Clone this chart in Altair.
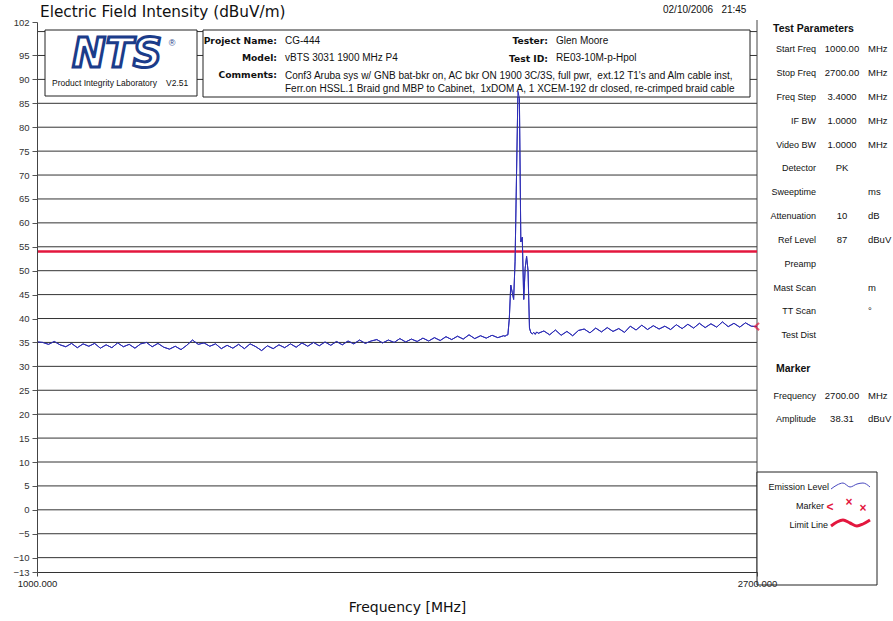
import altair as alt
import pandas as pd

# ---------------- data ----------------
START_FREQ = 1000.0
FREQ_STEP = 3.4

# sweep indices (freq = START_FREQ + FREQ_STEP * k) and levels
pre_idx = list(range(0, 325, 4))
pre_levels = [35.1, 35.0, 34.6, 35.2, 34.5, 34.1, 34.8, 33.9, 34.7, 34.2,
              34.8, 33.8, 34.5, 33.9, 34.9, 34.1, 34.6, 33.8, 34.7, 35.0,
              34.1, 34.8, 34.0, 33.6, 34.2, 33.5, 34.4, 35.5, 34.6, 34.9,
              34.2, 34.7, 33.7, 34.4, 33.8, 34.6, 33.7, 34.7, 34.1, 33.3,
              34.3, 33.7, 34.5, 33.9, 34.7, 34.0, 34.9, 34.2, 35.0, 34.3,
              35.1, 34.4, 35.2, 34.5, 35.3, 34.7, 35.5, 34.8, 35.3, 35.6,
              34.9, 35.5, 35.0, 35.8, 35.1, 35.7, 35.2, 35.9, 35.3, 36.0,
              35.4, 36.2, 35.6, 36.3, 35.7, 36.6, 35.8, 36.4, 35.9, 36.5,
              36.0, 36.4]
peak_idx = list(range(325, 349))
peak_levels = [36.3, 36.5, 36.6, 40.0, 47.0, 45.5, 44.0, 52.0, 70.0, 87.5,
               86.0, 56.0, 57.0, 44.0, 50.5, 53.0, 50.0, 38.0, 37.0, 36.8,
               37.1, 36.7, 37.2, 36.9]
post_idx = list(range(352, 501, 4))
post_levels = [37.4, 36.6, 37.6, 36.5, 37.3, 36.4, 37.5, 37.8, 37.0, 38.0,
               37.2, 38.1, 37.3, 37.9, 37.1, 38.4, 37.6, 38.6, 37.7, 38.5,
               37.8, 38.4, 37.7, 38.7, 37.9, 38.8, 38.0, 39.0, 38.1, 38.9,
               38.2, 39.3, 38.3, 39.0, 38.2, 39.1, 38.4, 38.31]

LIMIT_LEVEL = 54.0
MARKER_FREQ = 2700.0
MARKER_AMP = 38.31

grid_levels = list(range(-10, 101, 5))
y_tick_values = [102, 95, 90, 85, 80, 75, 70, 65, 60, 55, 50, 45, 40, 35, 30,
                 25, 20, 15, 10, 5, 0, -5, -10, -13]
x_tick_values = [1000, 2700]

param_labels = ["Start Freq", "Stop Freq", "Freq Step", "IF BW", "Video BW",
                "Detector", "Sweeptime", "Attenuation", "Ref Level", "Preamp",
                "Mast Scan", "TT Scan", "Test Dist"]
param_values = ["1000.00", "2700.00", "3.4000", "1.0000", "1.0000", "PK", "",
                "10", "87", "", "", "", ""]
param_units = ["MHz", "MHz", "MHz", "MHz", "MHz", "", "ms", "dB", "dBuV", "",
               "m", "°", ""]
marker_labels = ["Frequency", "Amplitude"]
marker_values = ["2700.00", "38.31"]
marker_units = ["MHz", "dBuV"]

comments_1 = "Conf3 Aruba sys w/ GNB bat-bkr on, AC bkr ON 1900 3C/3S, full pwr,\u00a0 ext.12 T1's and Alm cable inst,"
comments_2 = "Ferr.on HSSL.1 Braid gnd MBP to Cabinet,\u00a0 1xDOM A, 1 XCEM-192 dr closed, re-crimped braid cable"

# ---------------- tables ----------------
idx = pre_idx + peak_idx + post_idx
levels = pre_levels + peak_levels + post_levels
trace = pd.DataFrame({"freq": [START_FREQ + FREQ_STEP * k for k in idx],
                      "level": levels})

W, H = 720, 550
xs = alt.Scale(domain=[1000, 2700], nice=False, zero=False)
ys = alt.Scale(domain=[-13, 102], nice=False, zero=False)

FONT = "Liberation Sans"
BOLDFONT = "DejaVu Sans"

X_AXIS = alt.Axis(values=x_tick_values, format=".3f", title="Frequency [MHz]",
                  grid=False, labelFont=FONT, labelFontSize=9.5,
                  labelColor="#222", labelFlush=False, labelOverlap=False,
                  tickSize=4, tickColor="#444", domainColor="#333",
                  labelPadding=2, titleFont=BOLDFONT, titleFontSize=14,
                  titleFontWeight="normal", titleColor="#111",
                  titlePadding=13, titleX=370, zindex=1)
Y_AXIS = alt.Axis(values=y_tick_values, title=None, grid=False,
                  labelFont=FONT, labelFontSize=9.5, labelColor="#333",
                  labelFlush=False, labelOverlap=False, tickSize=5,
                  tickColor="#555", domainColor="#444", labelPadding=3, zindex=1)


def pix(layer_df, **mark_kw):
    base = dict(baseline="middle", font=FONT, fontSize=9, color="#111")
    base.update(mark_kw)
    return alt.Chart(layer_df).mark_text(**base).encode(
        x=alt.X("px:Q", scale=None, axis=None),
        y=alt.Y("py:Q", scale=None, axis=None),
        text="t:N")


line = alt.Chart(trace).mark_line(color="#2e2eb6", strokeWidth=1).encode(
    x=alt.X("freq:Q", scale=xs, axis=X_AXIS),
    y=alt.Y("level:Q", scale=ys, axis=Y_AXIS))

grid = alt.Chart(pd.DataFrame({"level": grid_levels})).mark_rule(
    color="#333333", strokeWidth=1).encode(
    y=alt.Y("level:Q", scale=ys, axis=Y_AXIS), x=alt.value(0), x2=alt.value(W))

right_border = alt.Chart(pd.DataFrame({"a": [0]})).mark_rule(
    color="#444", strokeWidth=1).encode(
    x=alt.value(W), y=alt.value(-2), y2=alt.value(H))

boxes = alt.Chart(pd.DataFrame({
    "x1": [8, 166, 720], "x2": [160, 713, 840],
    "y1": [8, 8, 450], "y2": [74, 75, 563]})).mark_rect(
    fill="white", stroke="#222", strokeWidth=1).encode(
    x=alt.X("x1:Q", scale=None, axis=None), x2="x2:Q",
    y=alt.Y("y1:Q", scale=None, axis=None), y2="y2:Q")

limit = alt.Chart(pd.DataFrame({"level": [LIMIT_LEVEL]})).mark_rule(
    color="#e3173e", strokeWidth=2.5).encode(
    y=alt.Y("level:Q", scale=ys, axis=Y_AXIS), x=alt.value(0), x2=alt.value(W))

marker = alt.Chart(pd.DataFrame({"freq": [MARKER_FREQ], "level": [MARKER_AMP]})).mark_point(
    shape="M0.6,-1L-0.6,0L0.6,1", filled=False, color="#e3173e", strokeWidth=2,
    size=50).encode(x=alt.X("freq:Q", scale=xs, axis=X_AXIS),
                    y=alt.Y("level:Q", scale=ys, axis=Y_AXIS))

# ---------------- text layers ----------------
title = pix(pd.DataFrame({"px": [3], "py": [-10], "t": ["Electric Field Intensity (dBuV/m)"]}),
            align="left", font=BOLDFONT, fontSize=15.3)
date = pix(pd.DataFrame({"px": [626], "py": [-12], "t": ["02/10/2006\u00a0\u00a0\u00a021:45"]}),
           align="left", fontSize=10)

logo = pix(pd.DataFrame({"px": [80], "py": [33], "t": ["NTS"]}),
           align="center", font=BOLDFONT, fontSize=40, fontStyle="italic",
           fontWeight="bold", color="white", stroke="#1b3c8a", strokeWidth=3)
reg = pix(pd.DataFrame({"px": [135], "py": [21], "t": ["®"]}),
          align="center", fontSize=9, color="#1b3c8a")
lab = pix(pd.DataFrame({"px": [15, 129], "py": [61, 61],
                        "t": ["Product Integrity Laboratory", "V2.51"]}),
          align="left", fontSize=8.5)

info_bold = pix(pd.DataFrame({"px": [240, 240, 240, 511, 511],
                              "py": [19, 36, 53, 19, 37],
                              "t": ["Project Name:", "Model:", "Comments:", "Tester:", "Test ID:"]}),
                align="right", font=BOLDFONT, fontWeight="bold", fontSize=9.2)
info_val = pix(pd.DataFrame({"px": [248, 248, 248, 248, 519, 519],
                             "py": [19, 36, 54, 67, 19, 36],
                             "t": ["CG-444", "vBTS 3031 1900 MHz P4", comments_1, comments_2,
                                   "Glen Moore", "RE03-10M-p-Hpol"]}),
               align="left", fontSize=10)

row_y = [27, 51, 75, 99, 123, 146, 170, 194, 218, 242, 266, 289, 313]
mrow_y = [374, 397]
panel_heads = pix(pd.DataFrame({"px": [736, 739], "py": [7, 347],
                                "t": ["Test Parameters", "Marker"]}),
                  align="left", fontWeight="bold", fontSize=10.5)
panel_labels = pix(pd.DataFrame({"px": [779] * 15, "py": row_y + mrow_y,
                                 "t": param_labels + marker_labels}),
                   align="right", fontSize=9)
panel_values = pix(pd.DataFrame({"px": [805] * 15, "py": row_y + mrow_y,
                                 "t": param_values + marker_values}),
                   align="center", fontSize=9.5)
panel_units = pix(pd.DataFrame({"px": [831] * 15, "py": row_y + mrow_y,
                                "t": param_units + marker_units}),
                  align="left", fontSize=9.5)

leg_labels = pix(pd.DataFrame({"px": [792, 787, 791], "py": [465, 484, 503],
                               "t": ["Emission Level", "Marker", "Limit Line"]}),
                 align="right", fontSize=9)
leg_marks = pix(pd.DataFrame({"px": [793, 812, 826], "py": [485, 480, 486],
                              "t": ["<", "×", "×"]}),
                align="center", fontSize=12, fontWeight="bold", color="#e3173e")
wave_blue = alt.Chart(pd.DataFrame({"px": [794, 800, 806, 813, 820, 826, 833],
                                    "py": [467, 463, 461, 465, 462, 461, 465]})).mark_line(
    color="#4a4ac0", strokeWidth=1, interpolate="monotone").encode(
    x=alt.X("px:Q", scale=None, axis=None), y=alt.Y("py:Q", scale=None, axis=None))
wave_red = alt.Chart(pd.DataFrame({"px": [794, 800, 806, 813, 820, 826, 833],
                                   "py": [504, 500, 498, 501, 504, 502, 498]})).mark_line(
    color="#e3173e", strokeWidth=3, interpolate="monotone").encode(
    x=alt.X("px:Q", scale=None, axis=None), y=alt.Y("py:Q", scale=None, axis=None))

chart = alt.layer(
    line, grid, right_border, boxes, limit,
    title, date, logo, reg, lab, info_bold, info_val,
    panel_heads, panel_labels, panel_values, panel_units,
    leg_labels, leg_marks, wave_blue, wave_red,
).properties(
    width=W, height=H,
    padding={"left": 37, "top": 22, "right": 136, "bottom": 49},
    autosize=alt.AutoSizeParams(type="none"),
    background="white",
).configure_view(stroke=None)

# draw the trace and marker above the boxes and limit line
chart.layer.append(line.encode())
chart.layer.append(marker)

chart.save("out.html", embed_options={"renderer": "svg", "actions": False})
